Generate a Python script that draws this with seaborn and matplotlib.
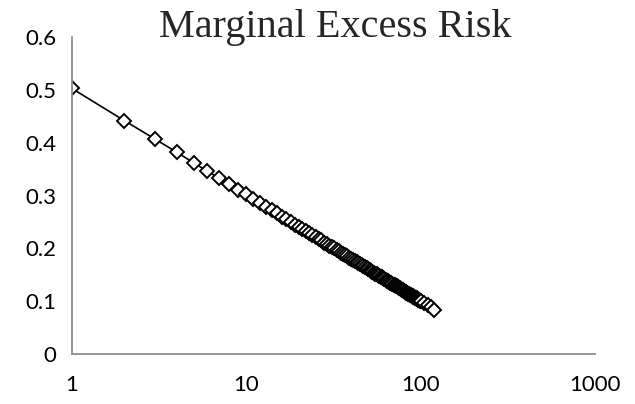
import numpy as np
import pandas as pd
import matplotlib
matplotlib.use('Agg')
import matplotlib.pyplot as plt
import matplotlib.ticker as mticker
import seaborn as sns

# number of exposures (x) and marginal excess risk (y)
n_exposed = list(range(1, 101)) + [105, 110, 115, 120]
excess_risk = [
    0.503, 0.442, 0.407, 0.382, 0.362, 0.346, 0.333, 0.321, 0.311, 0.302,
    0.293, 0.286, 0.279, 0.272, 0.266, 0.260, 0.255, 0.250, 0.245, 0.241,
    0.237, 0.233, 0.229, 0.225, 0.221, 0.218, 0.215, 0.211, 0.208, 0.205,
    0.202, 0.200, 0.197, 0.194, 0.192, 0.189, 0.187, 0.185, 0.182, 0.180,
    0.178, 0.176, 0.174, 0.172, 0.170, 0.168, 0.166, 0.164, 0.162, 0.161,
    0.159, 0.157, 0.156, 0.154, 0.152, 0.151, 0.149, 0.148, 0.146, 0.145,
    0.143, 0.142, 0.140, 0.139, 0.138, 0.136, 0.135, 0.134, 0.132, 0.131,
    0.130, 0.129, 0.128, 0.126, 0.125, 0.124, 0.123, 0.122, 0.121, 0.120,
    0.118, 0.117, 0.116, 0.115, 0.114, 0.113, 0.112, 0.111, 0.110, 0.109,
    0.108, 0.107, 0.106, 0.105, 0.105, 0.104, 0.103, 0.102, 0.101, 0.100,
    0.096, 0.092, 0.088, 0.084,
]
x_ticks = [1, 10, 100, 1000]
x_labels = ['1', '10', '100', '1000']
y_ticks = [0, 0.1, 0.2, 0.3, 0.4, 0.5, 0.6]
y_labels = ['0', '0.1', '0.2', '0.3', '0.4', '0.5', '0.6']

df = pd.DataFrame({'n': n_exposed, 'risk': excess_risk})

sns.set_style('white')
plt.rcParams['font.family'] = ['Lato', 'DejaVu Sans']

axis_grey = '#8c8c8c'

fig = plt.figure(figsize=(6.35, 4.04), dpi=100)
ax = fig.add_axes([0.113, 0.124, 0.824, 0.784])

sns.lineplot(data=df, x='n', y='risk', ax=ax, color='black', linewidth=1.2,
             marker='D', markersize=7.5, markerfacecolor='white',
             markeredgecolor='black', markeredgewidth=1.4, sort=False)

ax.set_xscale('log')
ax.set_xlim(1, 1000)
ax.set_ylim(0, 0.6)
ax.set_xticks(x_ticks)
ax.set_xticklabels(x_labels)
ax.xaxis.set_minor_locator(mticker.NullLocator())
ax.set_yticks(y_ticks)
ax.set_yticklabels(y_labels)
ax.set_xlabel('')
ax.set_ylabel('')

for side in ['top', 'right']:
    ax.spines[side].set_visible(False)
for side in ['left', 'bottom']:
    ax.spines[side].set_color(axis_grey)
    ax.spines[side].set_linewidth(1.3)

ax.tick_params(axis='both', which='major', direction='out', length=5,
               width=1.3, color=axis_grey, labelsize=16, labelcolor='black')
ax.tick_params(axis='x', pad=10)
ax.tick_params(axis='y', pad=6)
for lab in ax.get_xticklabels() + ax.get_yticklabels():
    lab.set_clip_on(False)

fig.text(0.528, 1 - 37 / 404, 'Marginal Excess Risk', ha='center',
         va='baseline', fontsize=29, family=['Liberation Serif', 'DejaVu Serif'])

fig.savefig('out.png', dpi=100)
